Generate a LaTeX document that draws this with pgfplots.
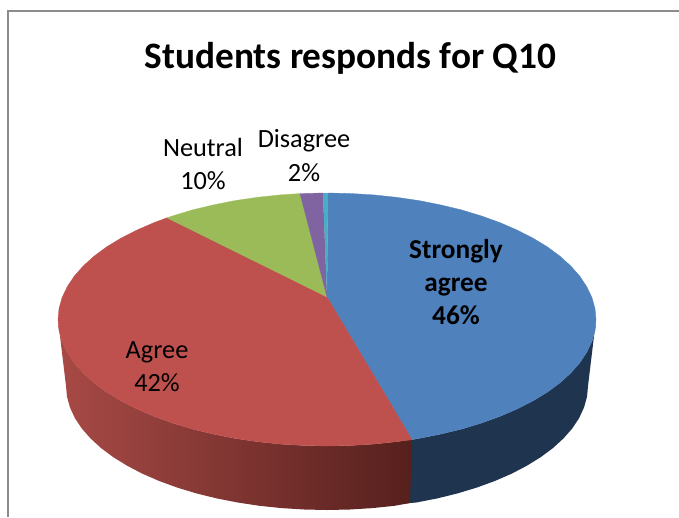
\documentclass[border=0pt]{standalone}
\usepackage{fontspec}
\setmainfont{Carlito}
\usepackage{pgfplots}
\pgfplotsset{compat=1.18}

\definecolor{blueTop}{HTML}{4F81BD}
\definecolor{blueSide}{HTML}{1F344E}
\definecolor{redTop}{HTML}{BE504D}
\definecolor{redLeft}{HTML}{A84A46}
\definecolor{redRight}{HTML}{56201D}
\definecolor{greenTop}{HTML}{9BBB59}
\definecolor{purpleTop}{HTML}{8064A2}
\definecolor{tealTop}{HTML}{4BACC6}
\definecolor{frameGray}{HTML}{8C8C8C}

\newcommand{\lbl}[3]{\node[anchor=base,font=\fontsize{#3}{#3}\selectfont] at (axis cs:#1) {#2};}

\begin{document}
\begin{tikzpicture}
\begin{axis}[
    scale only axis,
    width=679pt,
    height=517pt,
    xmin=0, xmax=679,
    ymin=0, ymax=517,
    y dir=reverse,
    hide axis,
    clip=true,
]
% chart frame (no right or bottom edge in the crop)
\addplot[frameGray, line width=1.5pt] coordinates {(8,517) (8,11) (679,11)};

% side wall: strongly agree (blue), runs a little under the red one
\addplot[draw=none, fill=blueSide] coordinates {
    (402,441) (412,439.7) (419,438.4) (440.7,434.1) (461.5,429.1) (481.3,423.1)
    (499.9,416.4) (517.2,408.9) (533.1,400.8) (547.4,392.1) (560,382.8) (570.8,373)
    (579.8,362.8) (586.8,352.2) (591.9,341.5) (595,330.5) (596,319.5)
    (588,386) (587,396.8) (584,407.5) (579.1,418.1) (572.3,428.4) (563.5,438.4)
    (553,448) (540.8,457.1) (526.9,465.7) (511.6,473.7) (494.8,481) (476.7,487.6)
    (457.5,493.4) (437.3,498.4) (416.3,502.5) (410,503) (402,504)
} -- cycle;
% side wall: agree (red)
\addplot[draw=none, left color=redLeft, right color=redRight] coordinates {
    (58,319.5) (59,330.5) (62.1,341.5) (67.2,352.2) (74.2,362.8) (83.2,373)
    (94,382.8) (106.6,392.1) (120.9,400.8) (136.8,408.9) (154.1,416.4) (172.7,423.1)
    (192.5,429.1) (213.3,434.1) (235,438.4) (257.4,441.7) (280.3,444.1) (303.5,445.5)
    (327,446) (350.5,445.5) (373.7,444.1) (396.6,441.7) (412,439.7)
    (410,503) (394.5,505.8) (372.3,508.1) (349.8,509.5) (327,510) (304.2,509.5)
    (281.7,508.1) (259.5,505.8) (237.7,502.5) (216.7,498.4) (196.5,493.4) (177.3,487.6)
    (159.2,481) (142.4,473.7) (127.1,465.7) (113.2,457.1) (101,448) (90.5,438.4)
    (81.7,428.4) (74.9,418.1) (70,407.5) (67,396.8) (66,386)
} -- cycle;

% top face: strongly agree 46%
\addplot[draw=blueTop, line width=0.3pt, fill=blueTop] coordinates {
    (327,297) (328,193) (350.5,193.5) (373.7,194.9) (396.6,197.3) (419,200.6)
    (440.7,204.9) (461.5,209.9) (481.3,215.9) (499.9,222.6) (517.2,230.1) (533.1,238.2)
    (547.4,246.9) (560,256.2) (570.8,266) (579.8,276.2) (586.8,286.8) (591.9,297.5)
    (595,308.5) (596,319.5) (595,330.5) (591.9,341.5) (586.8,352.2) (579.8,362.8)
    (570.8,373) (560,382.8) (547.4,392.1) (533.1,400.8) (517.2,408.9) (499.9,416.4)
    (481.3,423.1) (461.5,429.1) (440.7,434.1) (419,438.4) (412,439.7)
} -- cycle;
% top face: agree 42%
\addplot[draw=redTop, line width=0.3pt, fill=redTop] coordinates {
    (327,297) (412,439.7) (396.6,441.7) (373.7,444.1) (350.5,445.5) (327,446)
    (303.5,445.5) (280.3,444.1) (257.4,441.7) (235,438.4) (213.3,434.1) (192.5,429.1)
    (172.7,423.1) (154.1,416.4) (136.8,408.9) (120.9,400.8) (106.6,392.1) (94,382.8)
    (83.2,373) (74.2,362.8) (67.2,352.2) (62.1,341.5) (59,330.5) (58,319.5)
    (59,308.5) (62.1,297.5) (67.2,286.8) (74.2,276.2) (83.2,266) (94,256.2)
    (106.6,246.9) (120.9,238.2) (136.8,230.1) (154.1,222.6) (167,217.8)
} -- cycle;
% top face: neutral 10%
\addplot[draw=greenTop, line width=0.3pt, fill=greenTop] coordinates {
    (327,297) (167,217.8) (172.7,215.9) (192.5,209.9) (213.3,204.9) (235,200.6)
    (257.4,197.3) (280.3,194.9) (300,193.6)
} -- cycle;
% top face: disagree 2%
\addplot[draw=purpleTop, line width=0.3pt, fill=purpleTop] coordinates {
    (327,297) (300,193.6) (303.5,193.5) (323,193)
} -- cycle;
% top face: smallest slice
\addplot[draw=none, fill=tealTop] coordinates {
    (327,297) (323,193) (328,193)
} -- cycle;

% labels
\lbl{350.5,68}{\textbf{Students responds for Q10}}{37.3}
\lbl{456,258}{\textbf{Strongly}}{27.3}
\lbl{456,291}{\textbf{agree}}{27.3}
\lbl{456,324}{\textbf{46\%}}{27.3}
\lbl{157,358}{Agree}{26.3}
\lbl{157,391}{42\%}{26.3}
\lbl{203,156}{Neutral}{26.3}
\lbl{203,189}{10\%}{26.3}
\lbl{304,147}{Disagree}{26.3}
\lbl{304,181}{2\%}{26.3}
\end{axis}
\path (0,0) rectangle (679pt,517pt);
\end{tikzpicture}
\end{document}
